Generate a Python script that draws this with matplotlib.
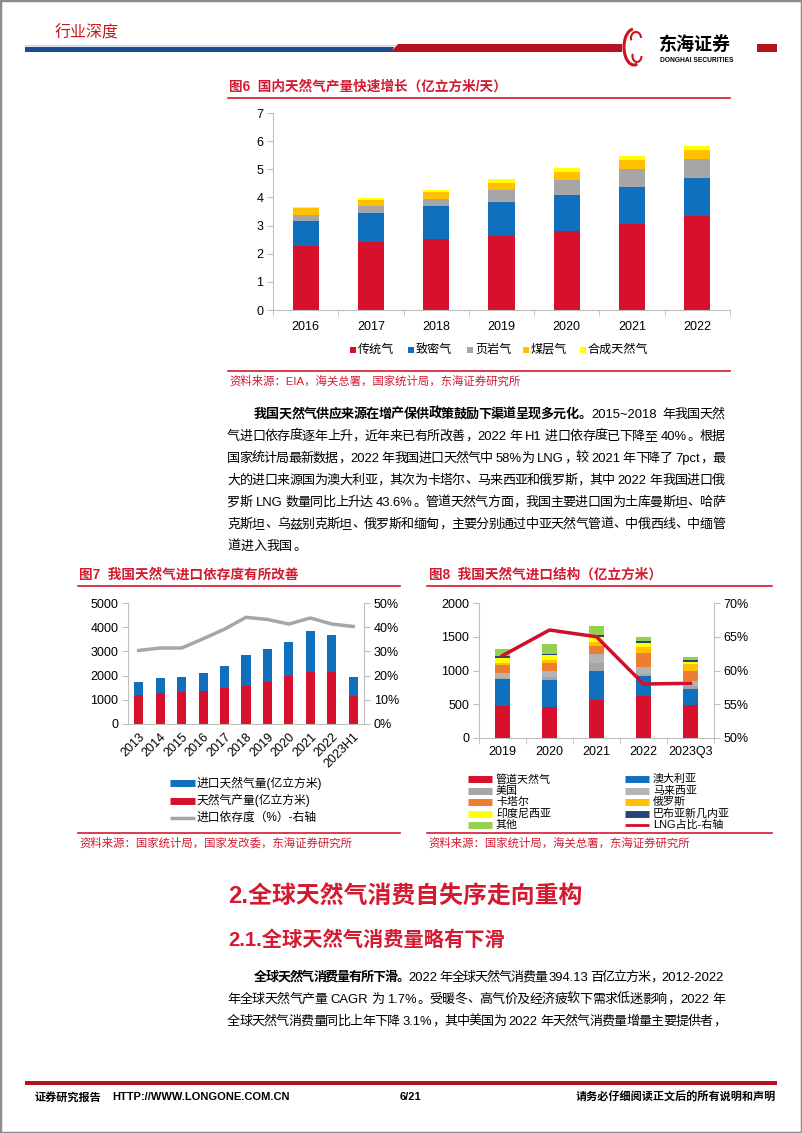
import re
import numpy as np
import matplotlib
matplotlib.use('Agg')
import matplotlib.pyplot as plt
from matplotlib.lines import Line2D
from matplotlib.patches import Polygon, Arc, Rectangle

plt.rcParams['font.family'] = ['Liberation Sans', 'Noto Sans CJK SC']

# ---------------- data ----------------
# Fig 6: domestic gas output (100m m3/day)
years6 = ['2016', '2017', '2018', '2019', '2020', '2021', '2022']
conventional = [2.28, 2.40, 2.54, 2.64, 2.80, 3.06, 3.34]
tight_gas = [0.89, 1.03, 1.15, 1.20, 1.28, 1.31, 1.35]
shale_gas = [0.22, 0.27, 0.27, 0.42, 0.55, 0.63, 0.68]
coalbed = [0.24, 0.22, 0.24, 0.26, 0.28, 0.32, 0.32]
synthetic = [0.03, 0.06, 0.06, 0.13, 0.15, 0.14, 0.14]
labels6 = ['传统气', '致密气', '页岩气', '煤层气', '合成天然气']

# Fig 7: production / imports (100m m3) and import dependency (%)
years7 = ['2013', '2014', '2015', '2016', '2017', '2018', '2019', '2020', '2021', '2022', '2023H1']
production = [1202, 1298, 1340, 1367, 1478, 1575, 1754, 1989, 2141, 2141, 1160]
imports = [525, 594, 621, 733, 925, 1270, 1340, 1395, 1685, 1547, 774]
dependency = [30.4, 31.4, 31.4, 35.2, 39.2, 44.1, 43.2, 41.3, 43.8, 41.3, 40.3]
labels7 = ['进口天然气量(亿立方米)', '天然气产量(亿立方米)', '进口依存度（%）-右轴']

# Fig 8: import structure (100m m3) and LNG share (%)
years8 = ['2019', '2020', '2021', '2022', '2023Q3']
pipeline = [479, 454, 563, 622, 489]
australia = [390, 405, 434, 301, 242]
usa = [20, 40, 110, 30, 40]
malaysia = [80, 93, 142, 103, 78]
qatar = [110, 114, 114, 208, 143]
russia = [30, 50, 63, 89, 99]
indonesia = [80, 74, 63, 49, 39]
png = [26, 20, 31, 28, 20]
others = [98, 138, 143, 61, 45]
lng_share = [62.2, 66.0, 65.0, 58.0, 58.1]
labels8 = ['管道天然气', '澳大利亚', '美国', '马来西亚', '卡塔尔', '俄罗斯',
           '印度尼西亚', '巴布亚新几内亚', '其他', 'LNG占比-右轴']

RED = '#D7102B'
BLUE = '#1170BE'
GRAY = '#A6A6A6'
SPINE = '#BFBFBF'
TITLE_RED = '#D31A30'
TICK = 9

W, H = 802, 1133
fig = plt.figure(figsize=(W / 100, H / 100), dpi=100)
renderer = fig.canvas.get_renderer()


def X(x):
    return x / W


def Y(y):
    return 1 - y / H


def text(x, y, s, size, color='black', weight='normal', ha='left', va='center'):
    return fig.text(X(x), Y(y), s, fontsize=size, color=color,
                    fontweight=weight, ha=ha, va=va)


def add_axes(l, t, r, b):
    return fig.add_axes([X(l), Y(b), (r - l) / W, (b - t) / H])


def hline(x0, x1, y, color=TITLE_RED, lw=1.2):
    fig.add_artist(Line2D([X(x0), X(x1)], [Y(y), Y(y)], color=color, lw=lw))


def poly(pts, color):
    fig.add_artist(Polygon([(X(a), Y(b)) for a, b in pts], closed=True,
                           facecolor=color, edgecolor='none',
                           transform=fig.transFigure))


def style_axes(ax, right=False):
    for s in ['top', 'right', 'left', 'bottom']:
        ax.spines[s].set_visible(False)
    ax.spines['bottom'].set_visible(True)
    ax.spines['bottom'].set_color(SPINE)
    side = 'right' if right else 'left'
    ax.spines[side].set_visible(True)
    ax.spines[side].set_color(SPINE)
    ax.tick_params(axis='y', colors=SPINE, labelcolor='black', length=4)
    ax.patch.set_alpha(0)


# ---------------- paragraph helper (justified) ----------------
PUNCT_L = '，。、：；）'
PUNCT_R = '（'


def para_line(x0, x1, y, parts, size=9.4, justify=True):
    em = size * 100 / 72
    toks = []
    for s, w in parts:
        for m in re.finditer(r'[A-Za-z0-9.%~\-]+| |.', s):
            toks.append((m.group(), w))
    widths = []
    for t, w in toks:
        if t == ' ':
            widths.append(em * 0.25)
        elif ord(t[0]) > 0x2E80:
            widths.append(em)
        else:
            tt = fig.text(0, 0, t, fontsize=size, fontweight=w)
            widths.append(tt.get_window_extent(renderer).width + em * 0.12)
            tt.remove()
    gap = (x1 - x0 - sum(widths)) / (len(toks) - 1) if justify else 0
    x = x0
    base = y + em * 0.36
    for (t, w), wd in zip(toks, widths):
        if t == ' ':
            pass
        elif t in PUNCT_L:
            text(x + em * 0.06, base, t, size, weight=w, va='baseline')
        elif t in PUNCT_R:
            text(x + em * 0.92, base, t, size, weight=w, ha='right', va='baseline')
        elif ord(t[0]) > 0x2E80:
            text(x + em / 2, base, t, size, weight=w, ha='center', va='baseline')
        else:
            text(x + em * 0.06, base, t, size, weight=w, va='baseline')
        x += wd + gap


# ---------------- page frame, header, footer ----------------
fig.add_artist(Rectangle((0, 0), 1, 1, fill=False, edgecolor='#8C8C8C', lw=2.5,
                         transform=fig.transFigure))
text(55, 33, '行业深度', 11.5, color='#C8161D')
poly([(25, 45), (396, 45), (395, 46.5), (25, 46.5)], '#BDD7EE')
poly([(25, 47), (394, 47), (392, 52), (25, 52)], '#1D4C8C')
poly([(398, 44), (622, 44), (622, 52), (391, 52)], '#B3121E')
poly([(757, 44), (777, 44), (777, 52), (757, 52)], '#B3121E')
fig.add_artist(Arc((X(634), Y(47)), X(20), 36 / H, theta1=95, theta2=285,
                   color='#C8161D', lw=2.2, transform=fig.transFigure))
fig.add_artist(Arc((X(636), Y(38)), X(10), 12 / H, theta1=0, theta2=200,
                   color='#C8161D', lw=1.5, transform=fig.transFigure))
fig.add_artist(Arc((X(637), Y(56)), X(9), 12 / H, theta1=160, theta2=360,
                   color='#C8161D', lw=1.5, transform=fig.transFigure))
text(659, 45, '东海证券', 13, weight='bold')
text(660, 60, 'DONGHAI SECURITIES', 4.8, weight='bold')

poly([(25, 1081), (777, 1081), (777, 1085), (25, 1085)], '#B3121E')
text(35, 1097, '证券研究报告', 8, weight='bold')
text(112, 1097, 'HTTP://WWW.LONGONE.COM.CN', 8, weight='bold')
text(410, 1097, '6/21', 8, weight='bold', ha='center')
text(776, 1097, '请务必仔细阅读正文后的所有说明和声明', 8, weight='bold', ha='right')

# ---------------- Fig 6 ----------------
text(229, 87, '图6  国内天然气产量快速增长（亿立方米/天）', 9.8, color=TITLE_RED, weight='bold')
hline(228, 730, 98)
ax6 = add_axes(273, 113, 730, 310)
x6 = np.arange(len(years6))
bottom = np.zeros(len(years6))
colors6 = [RED, BLUE, GRAY, '#FFC000', '#FFFF00']
for vals, col in zip([conventional, tight_gas, shale_gas, coalbed, synthetic], colors6):
    ax6.bar(x6, vals, 0.4, bottom=bottom, color=col)
    bottom += np.array(vals)
ax6.set_xlim(-0.5, len(years6) - 0.5)
ax6.set_ylim(0, 7)
ax6.set_yticks(range(8))
ax6.set_xticks(x6, years6)
ax6.set_xticks(np.arange(-0.5, len(years6)), minor=True)
style_axes(ax6)
ax6.tick_params(axis='x', which='major', length=0, pad=8, labelsize=TICK)
ax6.tick_params(axis='x', which='minor', length=4, color=SPINE)
ax6.tick_params(axis='y', labelsize=TICK, pad=3)
leg_x6 = [350, 408, 467, 523, 580]
for lx, col, lab in zip(leg_x6, colors6, labels6):
    poly([(lx, 347), (lx + 6, 347), (lx + 6, 353), (lx, 353)], col)
    text(lx + 8, 350, lab, 8.7)
hline(228, 730, 371)
text(229, 381, '资料来源：EIA，海关总署，国家统计局，东海证券研究所', 8.2, color=TITLE_RED)

# ---------------- paragraph 1 ----------------
L0, L1, IND = 227, 725, 254
para_line(IND, L1, 413, [('我国天然气供应来源在增产保供政策鼓励下渠道呈现多元化。', 'bold'),
                         ('2015~2018  年我国天然', 'normal')])
para_lines = [
    '气进口依存度逐年上升，近年来已有所改善，2022 年 H1 进口依存度已下降至 40%。根据',
    '国家统计局最新数据，2022 年我国进口天然气中 58%为 LNG，较 2021 年下降了 7pct，最',
    '大的进口来源国为澳大利亚，其次为卡塔尔、马来西亚和俄罗斯，其中 2022 年我国进口俄',
    '罗斯 LNG 数量同比上升达 43.6%。管道天然气方面，我国主要进口国为土库曼斯坦、哈萨',
    '克斯坦、乌兹别克斯坦、俄罗斯和缅甸，主要分别通过中亚天然气管道、中俄西线、中缅管',
]
for i, s in enumerate(para_lines):
    para_line(L0, L1, 435 + 22 * i, [(s, 'normal')])
para_line(L0, L1, 545, [('道进入我国。', 'normal')], justify=False)

# ---------------- Fig 7 ----------------
text(79, 575, '图7  我国天然气进口依存度有所改善', 9.8, color=TITLE_RED, weight='bold')
hline(78, 400, 586)
ax7 = add_axes(128, 603, 364, 724)
x7 = np.arange(len(years7))
ax7.bar(x7, production, 0.42, color=RED)
ax7.bar(x7, imports, 0.42, bottom=production, color=BLUE)
ax7.set_xlim(-0.5, len(years7) - 0.5)
ax7.set_ylim(0, 5000)
ax7.set_yticks(range(0, 5001, 1000))
ax7.set_xticks(x7, years7, rotation=45, ha='right', rotation_mode='anchor')
style_axes(ax7)
ax7.tick_params(axis='x', length=0, pad=5, labelsize=TICK)
ax7.tick_params(axis='y', labelsize=TICK, pad=3)
ax7b = ax7.twinx()
ax7b.plot(x7, dependency, color=GRAY, lw=2.5)
ax7b.set_ylim(0, 50)
ax7b.set_yticks(range(0, 51, 10), [f'{v}%' for v in range(0, 51, 10)])
style_axes(ax7b, right=True)
ax7b.spines['bottom'].set_visible(False)
ax7b.tick_params(axis='y', labelsize=TICK, pad=3)
leg7 = [(BLUE, 5, labels7[0]), (RED, 5, labels7[1]), (GRAY, 2.5, labels7[2])]
for i, (col, lw, lab) in enumerate(leg7):
    yy = 783 + 17.5 * i
    fig.add_artist(Line2D([X(170), X(195)], [Y(yy), Y(yy)], color=col, lw=lw,
                          solid_capstyle='butt'))
    text(197, yy, lab, 8.5)
hline(78, 400, 833)
text(79, 843, '资料来源：国家统计局，国家发改委，东海证券研究所', 8.2, color=TITLE_RED)

# ---------------- Fig 8 ----------------
text(429, 575, '图8  我国天然气进口结构（亿立方米）', 9.8, color=TITLE_RED, weight='bold')
hline(427, 772, 586)
ax8 = add_axes(479, 603, 714, 738)
x8 = np.arange(len(years8))
series8 = [pipeline, australia, usa, malaysia, qatar, russia, indonesia, png, others]
colors8 = [RED, BLUE, '#A5A5A5', '#B4B4B4', '#ED7D31', '#FFC000', '#FFFF00', '#264478', '#92D050']
bottom = np.zeros(len(years8))
for vals, col in zip(series8, colors8):
    ax8.bar(x8, vals, 0.32, bottom=bottom, color=col)
    bottom += np.array(vals)
ax8.set_xlim(-0.5, len(years8) - 0.5)
ax8.set_ylim(0, 2000)
ax8.set_yticks(range(0, 2001, 500))
ax8.set_xticks(x8, years8)
ax8.set_xticks(np.arange(-0.5, len(years8)), minor=True)
style_axes(ax8)
ax8.tick_params(axis='x', which='major', length=0, pad=6, labelsize=TICK)
ax8.tick_params(axis='x', which='minor', length=4, color=SPINE)
ax8.tick_params(axis='y', labelsize=TICK, pad=3)
ax8b = ax8.twinx()
ax8b.plot(x8, lng_share, color='#D0102B', lw=2.5)
ax8b.set_ylim(50, 70)
ax8b.set_yticks(range(50, 71, 5), [f'{v}%' for v in range(50, 71, 5)])
style_axes(ax8b, right=True)
ax8b.spines['bottom'].set_visible(False)
ax8b.tick_params(axis='y', labelsize=TICK, pad=3)
leg8_colors = colors8 + ['#D0102B']
for i, (col, lab) in enumerate(zip(leg8_colors, labels8)):
    row, colnum = divmod(i, 2)
    yy = 779 + 11.5 * row
    hx = 468 if colnum == 0 else 625
    lw = 2 if i == 9 else 5
    fig.add_artist(Line2D([X(hx), X(hx + 24)], [Y(yy), Y(yy)], color=col, lw=lw,
                          solid_capstyle='butt'))
    text(hx + 28, yy, lab, 7.9)
hline(427, 772, 833)
text(428, 843, '资料来源：国家统计局，海关总署，东海证券研究所', 8.2, color=TITLE_RED)

# ---------------- section headings and paragraph 2 ----------------
text(228, 897, '2.全球天然气消费自失序走向重构', 17.2, color=TITLE_RED, weight='bold')
text(228, 940, '2.1.全球天然气消费量略有下滑', 14.6, color=TITLE_RED, weight='bold')
para_line(IND, L1, 976, [('全球天然气消费量有所下滑。', 'bold'),
                         ('2022 年全球天然气消费量 394.13 百亿立方米，2012-2022', 'normal')])
para_line(L0, L1, 998, [('年全球天然气产量 CAGR 为 1.7%。受暖冬、高气价及经济疲软下需求低迷影响，2022 年', 'normal')])
para_line(L0, L1, 1020, [('全球天然气消费量同比上年下降 3.1%，其中美国为 2022 年天然气消费量增量主要提供者，', 'normal')])

fig.savefig('out.png', dpi=100)
